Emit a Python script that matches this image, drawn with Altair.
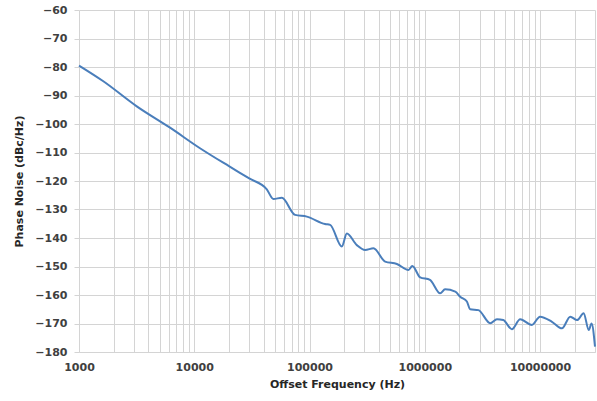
import altair as alt
import pandas as pd

# Offset frequency (Hz) and measured single-sideband phase noise (dBc/Hz)
freq_hz = [
    1000, 1626, 3170, 6166, 11220, 20000, 30000, 42600, 48600, 57500,
    75000, 94800, 136500, 151000, 190700, 210800, 257500, 304000, 359000,
    453000, 573000, 722000, 780000, 912000, 1110000, 1360000, 1500000,
    1840000, 2030000, 2320000, 2480000, 2920000, 3700000, 4230000,
    4800000, 5700000, 6730000, 8500000, 10000000, 12700000, 15500000,
    18300000, 21000000, 23900000, 26500000, 28000000, 30000000,
]
noise_dbc = [
    -79.5, -85.0, -93.8, -101.3, -108.5, -114.8, -119.1, -122.9, -126.3,
    -125.9, -131.9, -132.5, -135.1, -135.4, -143.0, -138.4, -142.5, -144.2,
    -143.6, -148.3, -149.1, -151.2, -149.8, -153.8, -154.7, -159.4, -158.0,
    -158.8, -160.6, -162.3, -165.0, -165.3, -169.9, -168.5, -168.8, -172.0,
    -168.5, -170.5, -167.6, -169.4, -171.7, -167.6, -168.8, -166.4, -172.3,
    -170.0, -178.1,
]

# Axis ticks: labelled decades plus the 2..9 minor gridlines of each decade
decades = [1000, 10000, 100000, 1000000, 10000000]
grid_freqs = [m * d for d in decades for m in range(1, 10) if m * d <= 30000000]
y_ticks = list(range(-180, -59, 10))

df = pd.DataFrame({"freq": freq_hz, "noise": noise_dbc})

grid_color = "#d4d4d4"
font = "DejaVu Sans"

chart = (
    alt.Chart(df)
    .mark_line(color="#4a7ebb", strokeWidth=2, interpolate="monotone")
    .encode(
        x=alt.X(
            "freq:Q",
            scale=alt.Scale(type="log", domain=[1000, 30000000], nice=False),
            axis=alt.Axis(
                title="Offset Frequency (Hz)",
                values=grid_freqs,
                format="d",
                labelExpr="test(/^10*$/, datum.label) ? datum.label : ''",
                labelFlush=False,
                grid=True,
                gridColor=grid_color,
                gridWidth=1,
                ticks=False,
                domainColor=grid_color,
                labelPadding=9,
                titlePadding=6,
            ),
        ),
        y=alt.Y(
            "noise:Q",
            scale=alt.Scale(domain=[-180, -60], nice=False, zero=False),
            axis=alt.Axis(
                title="Phase Noise (dBc/Hz)",
                values=y_ticks,
                format="d",
                labelFlush=False,
                grid=True,
                gridColor=grid_color,
                gridWidth=1,
                ticks=True,
                tickSize=5,
                tickColor=grid_color,
                domain=False,
                labelPadding=7,
                titlePadding=10,
            ),
        ),
    )
    .properties(
        width=516,
        height=342,
        autosize=alt.AutoSizeParams(type="none"),
        padding={"left": 79, "top": 10, "right": 2, "bottom": 49},
        background="white",
    )
    .configure_view(stroke=None)
    .configure_axis(
        labelFont=font,
        labelFontSize=11,
        labelFontWeight="bold",
        labelColor="#404040",
        titleFont=font,
        titleFontSize=11,
        titleFontWeight="bold",
        titleColor="#262626",
    )
)

chart.save("out.html", embed_options={"renderer": "svg", "actions": False})
